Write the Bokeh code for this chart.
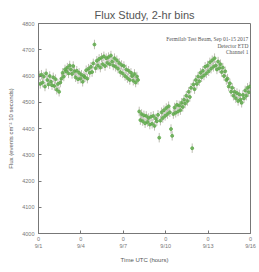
from bokeh.plotting import figure
from bokeh.embed import file_html
from bokeh.resources import INLINE
from bokeh.models import FixedTicker, Range1d
from bokeh.core.properties import value

# Flux per 2-hr bin, 12 bins per day, starting 9/1 00:00 UTC
flux = [
    4602, 4570, 4605, 4575, 4598, 4560, 4610, 4585, 4568, 4600, 4578, 4565,
    4595, 4562, 4588, 4548, 4570, 4540, 4575, 4590, 4612, 4598, 4625, 4618,
    4632, 4610, 4640, 4625, 4608, 4638, 4618, 4595, 4620, 4588, 4612, 4590,
    4605, 4578, 4600, 4595, 4622, 4590, 4628, 4612, 4635, 4615, 4648, 4720,
    4630, 4658, 4640, 4665, 4632, 4670, 4645, 4675, 4638, 4668, 4650, 4672,
    4645, 4678, 4655, 4640, 4668, 4635, 4660, 4628, 4650, 4615, 4642, 4610,
    4638, 4600, 4625, 4592, 4620, 4585, 4612, 4600, 4582, 4608, 4575, 4598,
    4585, 4465, 4432, 4455, 4428, 4450, 4420, 4448, 4425, 4440, 4415, 4445,
    4418, 4448, 4410, 4438, 4428, 4452, 4365, 4430, 4462, 4440, 4470, 4448,
    4478, 4455, 4485, 4462, 4398, 4372, 4455, 4480, 4460, 4490, 4465, 4488,
    4470, 4498, 4482, 4510, 4495, 4525, 4505, 4540, 4520, 4555, 4325, 4568,
    4550, 4585, 4570, 4598, 4580, 4612, 4595, 4620, 4602, 4635, 4610, 4640,
    4618, 4652, 4628, 4660, 4635, 4668, 4640, 4625, 4655, 4630, 4645, 4615,
    4632, 4600, 4618, 4585, 4590, 4560, 4572, 4540, 4555, 4525, 4540, 4515,
    4535, 4505, 4530, 4510, 4498, 4528, 4515, 4545, 4525, 4555, 4538, 4560,
]
flux_err = [18] * len(flux)
bin_hours = 2.0

tick_days = [0, 3, 6, 9, 12, 15]
tick_labels = ["0\n9/1", "0\n9/4", "0\n9/7", "0\n9/10", "0\n9/13", "0\n9/16"]
y_ticks = [4000, 4100, 4200, 4300, 4400, 4500, 4600, 4700, 4800]

legend_lines = ["Fermilab Test Beam, Sep 01-15 2017", "Detector ETD", "Channel 1"]
legend_y = [4742, 4716, 4690]

t = [(i + 0.5) * bin_hours / 24.0 for i in range(len(flux))]
half = bin_hours / 48.0

p = figure(width=257, height=270, output_backend="svg", toolbar_location=None,
           x_range=Range1d(0, 15), y_range=Range1d(4000, 4800),
           min_border_left=38, min_border_right=7, min_border_top=23, min_border_bottom=37)

p.title.text = "Flux Study, 2-hr bins"
p.title.align = "center"
p.title.text_font = "Liberation Sans"
p.title.text_font_size = "11px"
p.title.text_font_style = "normal"
p.title.text_color = "#555555"
p.title.offset = 0
p.title.standoff = 6

p.xgrid.visible = False
p.ygrid.visible = False
p.outline_line_color = "#777777"
p.background_fill_color = "white"
p.border_fill_color = "white"

# error bars
p.segment(x0=t, x1=t, y0=[f - e for f, e in zip(flux, flux_err)],
          y1=[f + e for f, e in zip(flux, flux_err)], line_color="#a0a090", line_width=1, line_alpha=0.7)
p.segment(x0=[x - half for x in t], x1=[x + half for x in t], y0=flux, y1=flux,
          line_color="#a0a090", line_width=1, line_alpha=0.7)
p.scatter(t, flux, size=3, color="#5aa845", alpha=0.75)

p.text(x=[14.85] * len(legend_lines), y=legend_y, text=legend_lines,
       text_align="right", text_baseline="middle", text_font_size="5.5px",
       text_font=value("Liberation Serif"), text_color="#555555")

for ax in (p.xaxis[0], p.yaxis[0]):
    ax.axis_line_color = "#777777"
    ax.major_tick_line_color = "#777777"
    ax.minor_tick_line_color = None
    ax.major_tick_in = 3
    ax.major_tick_out = 0
    ax.major_label_text_font_size = "5.5px"
    ax.major_label_text_color = "#777777"
    ax.major_label_text_font = "Liberation Sans"
    ax.axis_label_text_font_size = "6px"
    ax.axis_label_text_font_style = "normal"
    ax.axis_label_text_color = "#555555"
    ax.axis_label_text_font = "Liberation Sans"

p.xaxis.ticker = FixedTicker(ticks=tick_days)
p.xaxis.major_label_overrides = {d: l for d, l in zip(tick_days, tick_labels)}
p.xaxis.axis_label = "Time UTC (hours)"
p.xaxis.major_label_standoff = 2
p.xaxis.axis_label_standoff = 5

p.yaxis.ticker = FixedTicker(ticks=y_ticks)
p.yaxis.axis_label = "Flux (events cm⁻² 10 seconds)"
p.yaxis.major_label_standoff = 4
p.yaxis.axis_label_standoff = 5

open("out.html", "w").write(file_html(p, INLINE))
